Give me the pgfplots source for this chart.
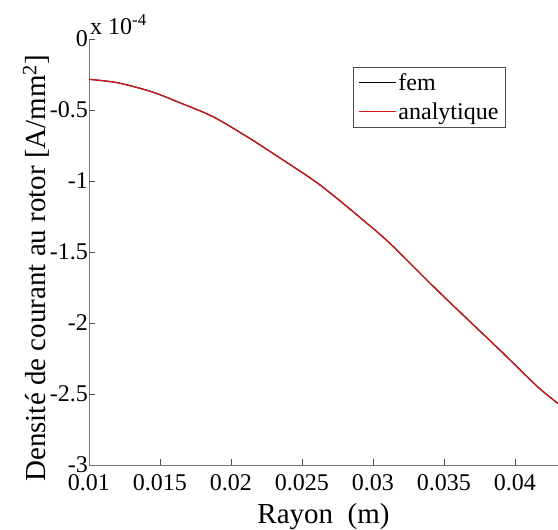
\documentclass[border=0pt]{standalone}
\usepackage{pgfplots}
\pgfplotsset{compat=1.18}
\usepackage{fontspec}
\setmainfont{Liberation Serif}
\definecolor{anared}{RGB}{215,25,25}

\begin{document}
\begin{tikzpicture}
\begin{axis}[
    scale only axis,
    width=469bp,
    height=426bp,
    xmin=0.01, xmax=0.04303,
    ymin=-3e-4, ymax=0,
    clip=false,
    axis x line*=bottom,
    axis y line*=left,
    axis line style={black!55, line width=0.8pt},
    tick style={black!70, line width=0.6pt},
    tick align=inside,
    major tick length=6bp,
    xtick={0.01,0.015,0.02,0.025,0.03,0.035,0.04},
    xticklabels={0.01,0.015,0.02,0.025,0.03,0.035,0.04},
    ytick={-3e-4,-2.5e-4,-2e-4,-1.5e-4,-1e-4,-0.5e-4,0},
    yticklabels={-3,-2.5,-2,-1.5,-1,-0.5,0},
    scaled x ticks=false,
    scaled y ticks=false,
    tick label style={font=\fontsize{24bp}{26bp}\selectfont},
    xticklabel style={inner sep=1bp, yshift=-8bp},
    yticklabel style={inner sep=1bp},
    xlabel={Rayon\ \ (m)},
    ylabel={Densité de courant au rotor [A/mm\textsuperscript{2}]},
    label style={font=\fontsize{29bp}{31bp}\selectfont},
    xlabel style={yshift=-8bp},
    ylabel style={at={(ticklabel cs:0.462)}, yshift=-4bp},
    legend style={at={(0.563,0.934)}, anchor=north west, draw=black!70,
        font=\fontsize{24bp}{26bp}\selectfont, inner xsep=5bp, inner ysep=4bp,
        row sep=7bp},
    legend cell align=left,
    legend image code/.code={\draw[#1] (0bp,0bp) -- (37bp,0bp);},
]
\addplot[black, line width=1.2pt, smooth] coordinates {
    (0.0100,-0.284e-4) (0.0120,-0.308e-4) (0.0144,-0.371e-4)
    (0.0164,-0.449e-4) (0.01873,-0.547e-4) (0.02113,-0.688e-4)
    (0.02345,-0.838e-4) (0.02627,-1.028e-4) (0.0293,-1.275e-4)
    (0.0312,-1.440e-4) (0.03451,-1.768e-4) (0.03683,-1.990e-4)
    (0.03915,-2.211e-4) (0.04155,-2.445e-4) (0.04303,-2.567e-4)
};
\addlegendentry{fem}
\addplot[anared, line width=1.2pt, smooth] coordinates {
    (0.0100,-0.284e-4) (0.0120,-0.308e-4) (0.0144,-0.371e-4)
    (0.0164,-0.449e-4) (0.01873,-0.547e-4) (0.02113,-0.688e-4)
    (0.02345,-0.838e-4) (0.02627,-1.028e-4) (0.0293,-1.275e-4)
    (0.0312,-1.440e-4) (0.03451,-1.768e-4) (0.03683,-1.990e-4)
    (0.03915,-2.211e-4) (0.04155,-2.445e-4) (0.04303,-2.567e-4)
};
\addlegendentry{analytique}
\node[anchor=south west, inner sep=0pt, xshift=1bp, yshift=4bp,
      font=\fontsize{24bp}{26bp}\selectfont]
    at (rel axis cs:0,1) {x 10\textsuperscript{-4}};
\coordinate (bl) at (rel axis cs:0,0);
\coordinate (tr) at (rel axis cs:1,1);
\end{axis}
\pgfresetboundingbox
\path[use as bounding box] ([xshift=-89bp,yshift=-65bp]bl) rectangle ([yshift=39bp]tr);
\end{tikzpicture}
\end{document}
